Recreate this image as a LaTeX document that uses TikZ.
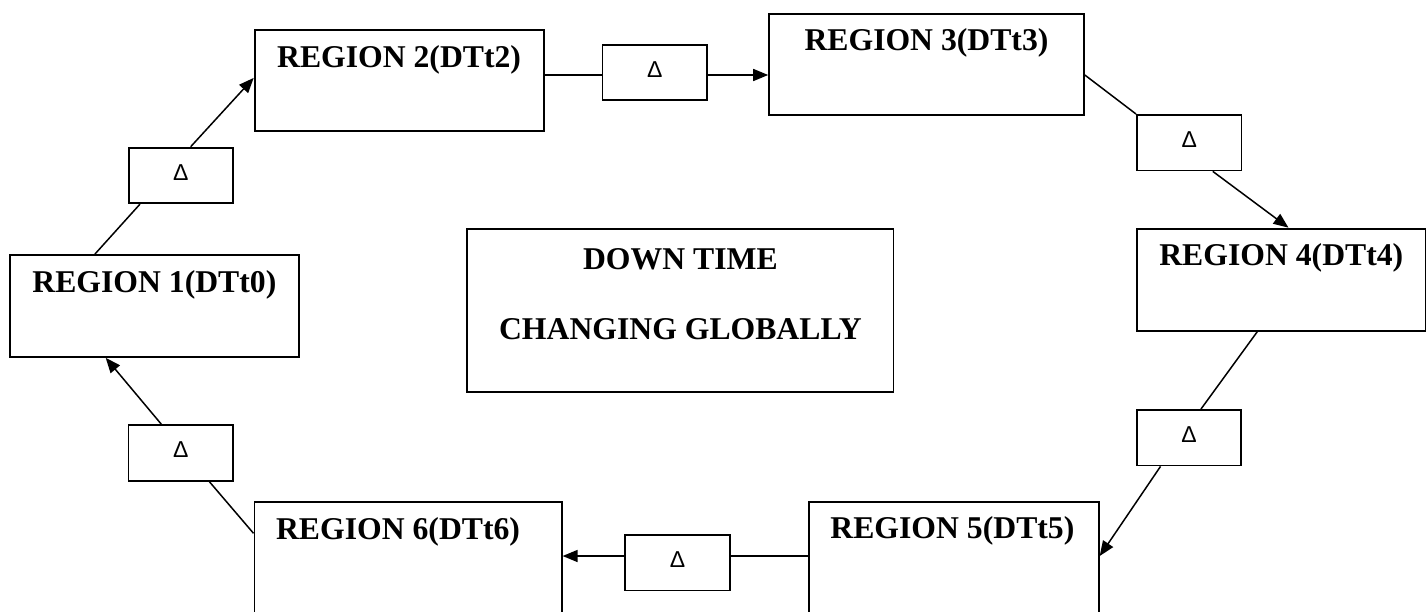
\documentclass[tikz,border=0pt]{standalone}
\usepackage{fontspec}
\setmainfont{Liberation Serif}
\newfontfamily\deltafont{Liberation Sans}
\usetikzlibrary{arrows.meta,calc}
\begin{document}
\begin{tikzpicture}[x=1pt,y=-1pt,
  regionbox/.style={draw, line width=1.8pt, rectangle, anchor=north west, inner sep=0pt},
  deltabox/.style={draw, line width=1.8pt, rectangle, minimum width=104.6pt, minimum height=55.6pt,
    anchor=north west, inner sep=0pt, text depth=6pt, font=\deltafont\fontsize{23}{27}\selectfont},
  regiontext/.style={font=\bfseries\fontsize{31.7}{38}\selectfont, inner sep=0pt, anchor=center},
  conn/.style={line width=1.5pt},
  arr/.style={conn, -{Triangle[length=15pt,width=12pt]}}]
\useasboundingbox (0,0) rectangle (1426,611);
\fill[white] (0,0) rectangle (1426,611);
\clip (0,0) rectangle (1426,611);

% region boxes
\node[regionbox, minimum width=289pt, minimum height=102pt] (r1) at (9,254) {};
\node[regionbox, minimum width=289pt, minimum height=101.6pt] (r2) at (253.7,28.7) {};
\node[regionbox, minimum width=314.8pt, minimum height=101.6pt] (r3) at (768.2,12.7) {};
\node[regionbox, minimum width=288.8pt, minimum height=102.3pt] (r4) at (1136,227.7) {};
\node[regionbox, minimum width=289.8pt, minimum height=140pt] (r5) at (808.1,501) {};
\node[regionbox, minimum width=307.3pt, minimum height=140pt] (r6) at (253.5,501) {};
\node[regionbox, minimum width=426.3pt, minimum height=163.3pt] (c) at (466.3,227.7) {};

% region texts
\node[regiontext] (t1) at ([yshift=-31pt]r1.north) {REGION 1(DTt0)};
\node[regiontext] (t2) at ([yshift=-31.3pt]r2.north) {REGION 2(DTt2)};
\node[regiontext] (t3) at ([yshift=-30.5pt]r3.north) {REGION 3(DTt3)};
\node[regiontext] (t4) at ([yshift=-30.3pt]r4.north) {REGION 4(DTt4)};
\node[regiontext] (t5) at ([xshift=-1.5pt,yshift=-29.5pt]r5.north) {REGION 5(DTt5)};
\node[regiontext] (t6) at ([xshift=-10pt,yshift=-31pt]r6.north) {REGION 6(DTt6)};
\node[regiontext] (c1) at ([yshift=-32pt]c.north) {DOWN TIME};
\node[regiontext] (c2) at ([yshift=-101pt]c.north) {CHANGING GLOBALLY};

% delta boxes
\node[deltabox] (d1) at (127.7,146.7) {Δ};
\node[deltabox] (d2) at (601.6,43.7) {Δ};
\node[deltabox] (d3) at (1136,114) {Δ};
\node[deltabox] (d4) at (1135.8,409) {Δ};
\node[deltabox] (d5) at (127.5,424.3) {Δ};
\node[deltabox] (d6) at (624.3,534) {Δ};

\coordinate (l23) at (0,75);
\coordinate (l56) at (0,556);

% connectors
\draw[conn] ([xshift=86pt]r1.north west) -- ([xshift=12.3pt]d1.south west);
\draw[arr] ([xshift=63pt]d1.north west) -- ([yshift=2.5pt]r2.west);
\draw[conn] (r2.east |- l23) -- (d2.west |- l23);
\draw[arr] (d2.east |- l23) -- (r3.west |- l23);
\draw[conn] (r3.east |- l23) -- (d3.north west);
\draw[arr] ([xshift=76.8pt]d3.south west) -- ([xshift=152.5pt]r4.north west);
\draw[conn] ([xshift=121.2pt]r4.south west) -- ([xshift=65.2pt]d4.north west);
\draw[arr] ([xshift=24.7pt]d4.south west) -- (r5.east |- l56);
\draw[conn] (r5.west |- l56) -- (d6.east |- l56);
\draw[arr] (d6.west |- l56) -- (r6.east |- l56);
\draw[conn] ([yshift=-32.3pt]r6.north west) -- ([xshift=81.9pt]d5.south west);
\draw[arr] ([xshift=33.9pt]d5.north west) -- ([xshift=96.7pt]r1.south west);
\end{tikzpicture}
\end{document}
